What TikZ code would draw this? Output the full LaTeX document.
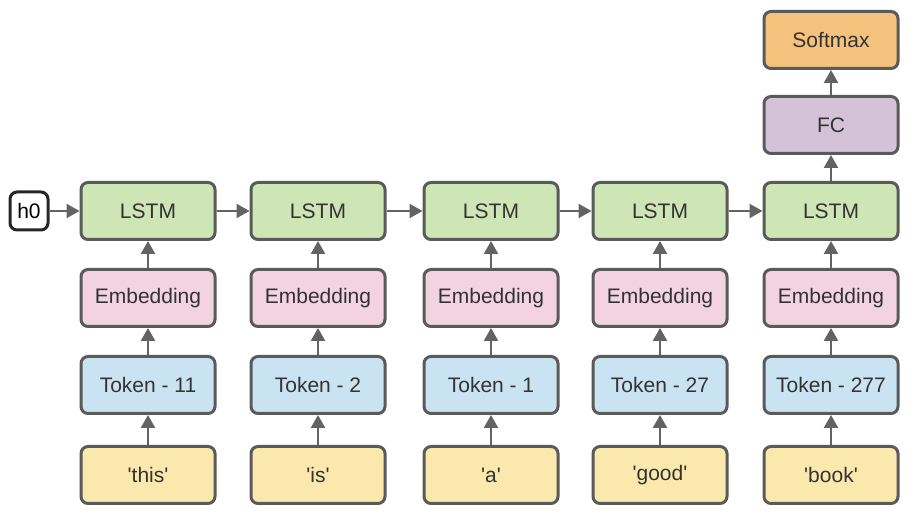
\documentclass[tikz,border=0pt]{standalone}
\usepackage{fontspec}
\setmainfont{Liberation Sans}
\definecolor{RNNedge}{HTML}{5A5A5A}
\definecolor{RNNarrow}{HTML}{636363}
\definecolor{RNNtext}{HTML}{333333}
\definecolor{RNNgreen}{HTML}{CEE5B6}
\definecolor{RNNpink}{HTML}{F2D3DF}
\definecolor{RNNblue}{HTML}{CAE3F3}
\definecolor{RNNyellow}{HTML}{FAE8AC}
\definecolor{RNNpurple}{HTML}{D4C2D8}
\definecolor{RNNorange}{HTML}{F5C27E}
\usetikzlibrary{arrows.meta}
\newcommand{\qw}[1]{\textquotesingle#1\textquotesingle}

\tikzset{
  block/.style={draw=RNNedge, line width=1.5pt, rounded corners=3.5pt,
    minimum width=67pt, minimum height=28.5pt, inner sep=0pt,
    text=RNNtext, font=\fontsize{10.5}{12}\selectfont},
  link/.style={draw=RNNarrow, line width=1.2pt,
    -{Triangle[length=6.5pt, width=7pt]}}
}

\begin{document}
\begin{tikzpicture}[x=0.5pt, y=-0.5pt]
\useasboundingbox (0,0) rectangle (922,518);
% One column per word
\foreach \x/\w/\t [count=\i] in {148/this/11, 318/is/2, 491/a/1,
                                 660/good/27, 831/book/277} {
  \node[block, fill=RNNyellow] (word\i) at (\x,475) {\qw{\w}};
  \node[block, fill=RNNblue]   (tok\i)  at (\x,385) {Token - \t};
  \node[block, fill=RNNpink]   (emb\i)  at (\x,298) {Embedding};
  \node[block, fill=RNNgreen]  (lstm\i) at (\x,211) {LSTM};
  \draw[link] (word\i) -- (tok\i);
  \draw[link] (tok\i) -- (emb\i);
  \draw[link] (emb\i) -- (lstm\i);
}
% Hidden state passed along
\node[block, fill=white, draw=black!85, minimum width=19pt,
  minimum height=19pt, text=black] (h0) at (29,211) {h0};
\draw[link] (h0) -- (lstm1);
\foreach \a/\b in {1/2, 2/3, 3/4, 4/5}
  \draw[link] (lstm\a) -- (lstm\b);
% Head on the last step
\node[block, fill=RNNpurple] (fc) at (831,125) {FC};
\node[block, fill=RNNorange] (soft) at (831,40) {Softmax};
\draw[link] (lstm5) -- (fc);
\draw[link] (fc) -- (soft);
\end{tikzpicture}
\end{document}
